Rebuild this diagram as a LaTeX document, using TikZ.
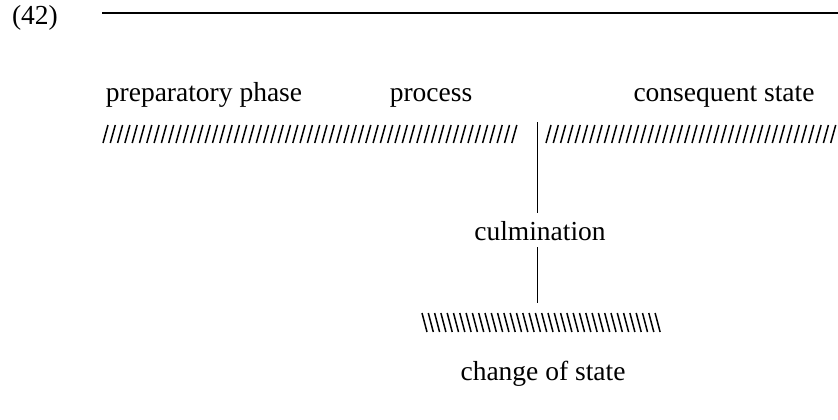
\documentclass[tikz,border=0pt]{standalone}
\usepackage{fontspec}
\setmainfont{Liberation Serif}
\usetikzlibrary{positioning}

\begin{document}
\begin{tikzpicture}[
    x=1pt, y=-1pt,
    label/.style={font=\fontsize{27.5}{30}\selectfont, inner sep=0pt, anchor=base},
    hatch/.style={line width=1.5pt},
    bar/.style={line width=1pt}
]
\useasboundingbox (0,0) rectangle (838,420);

% Example number and rule
\node[label] (num) at (35,25) {(42)};
\coordinate (rulestart) at (102,13);
\coordinate (ruleend) at (838,13);
\draw[line width=1.2pt] (rulestart) -- (ruleend);

% Phase labels
\node[label] (prep) at (204,101) {preparatory phase};
\node[label] (proc) at (431,101) {process};
\node[label] (cons) at (724,101) {consequent state};

% Nucleus hatching
\foreach \i in {0,...,56}
    \draw[hatch] ({103+7.3*\i},143) -- ++(5,-18);
\foreach \i in {0,...,39}
    \draw[hatch] ({546+7.3*\i},143) -- ++(5,-18);

% Culmination
\coordinate (bartop) at (537,122);
\coordinate (barbot) at (537,303);
\node[label] (culm) at (540,240) {culmination};
\draw[bar] (bartop) -- ([yshift=8pt]bartop |- culm.north);
\draw[bar] ([yshift=-7pt]barbot |- culm.south) -- (barbot);

% Change of state
\foreach \i in {0,...,37}
    \draw[hatch] ({422+6.3*\i},313) -- ++(5,19);
\node[label] (change) at (543,380) {change of state};

\end{tikzpicture}
\end{document}
